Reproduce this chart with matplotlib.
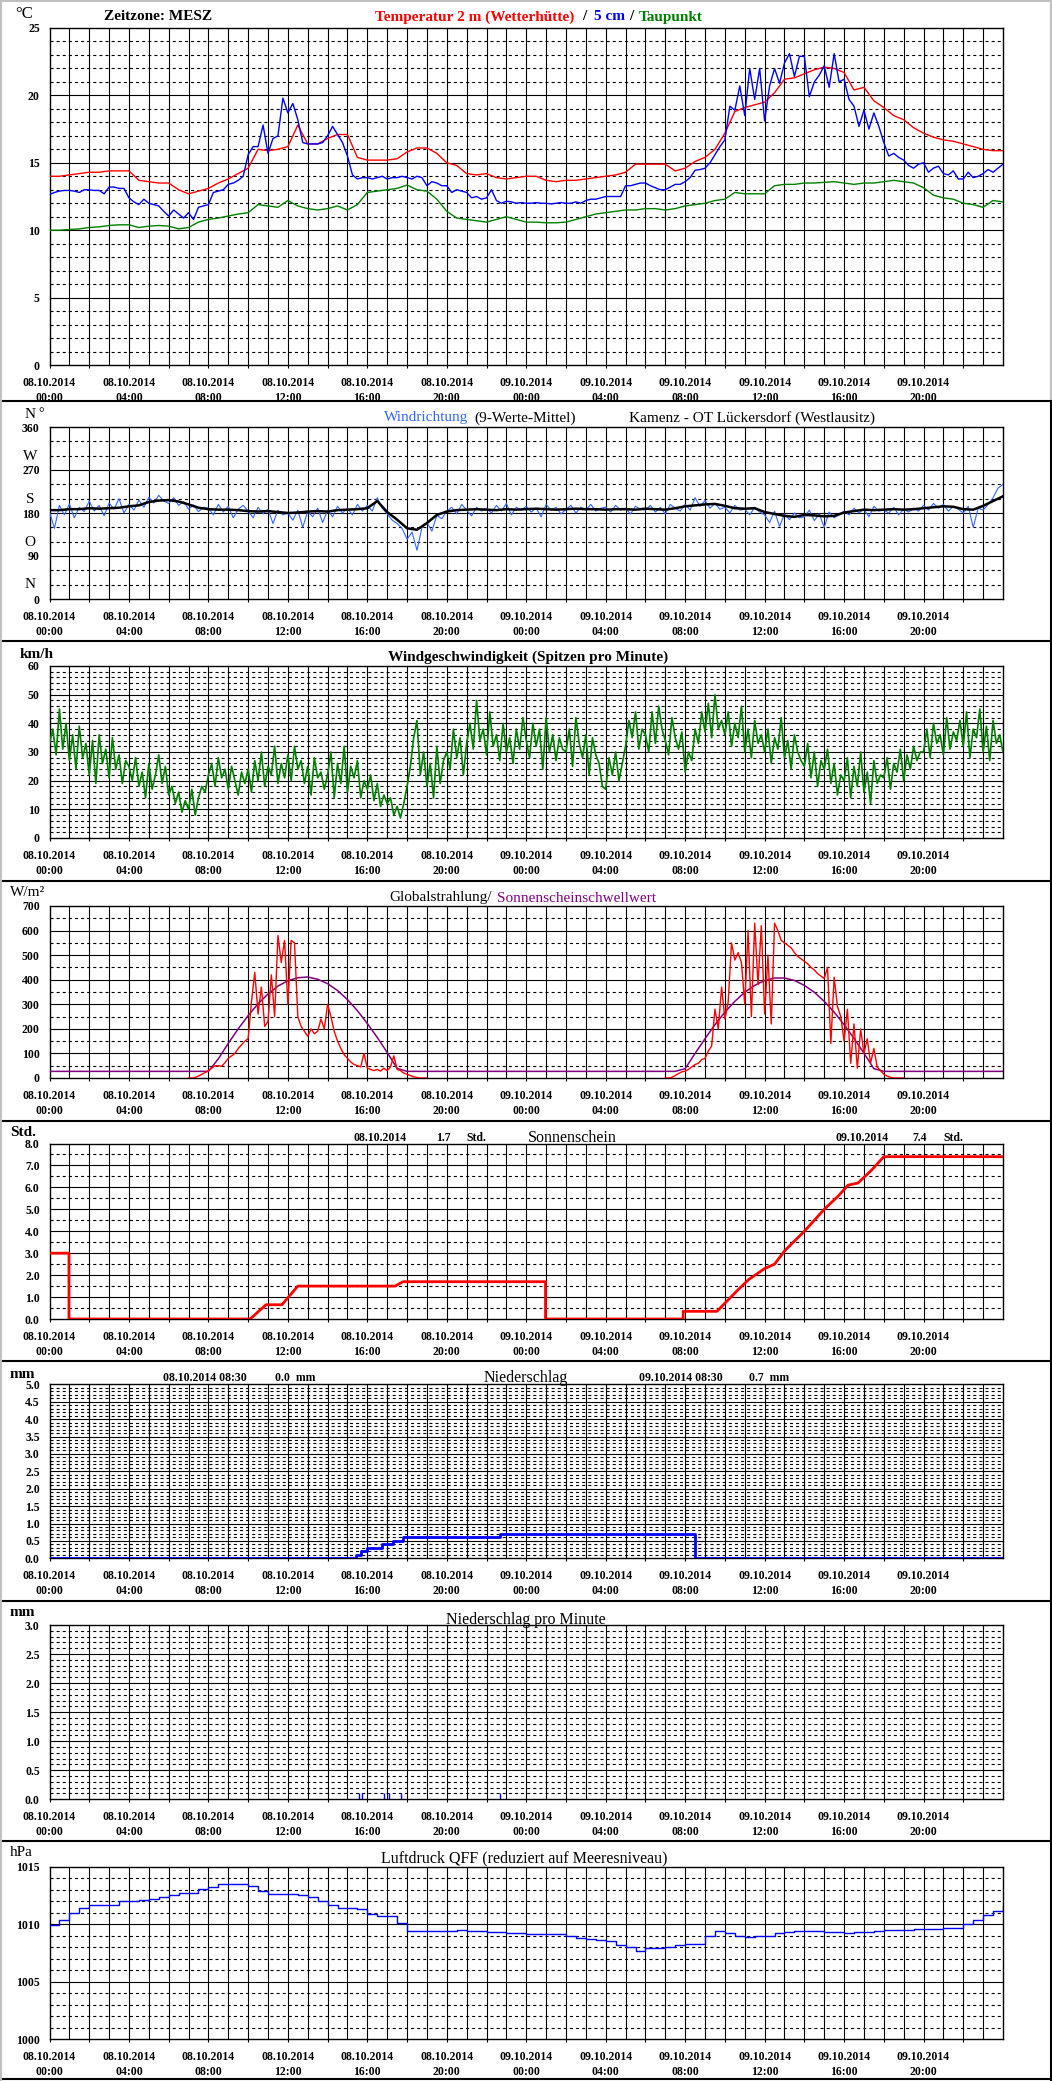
import numpy as np
import matplotlib
matplotlib.use("Agg")
import matplotlib.pyplot as plt
from matplotlib.lines import Line2D

plt.rcParams['font.family'] = ['Liberation Serif', 'DejaVu Serif']
plt.rcParams['lines.scale_dashes'] = False

# ---------------- data ----------------
tick_days = ['08.10.2014'] * 6 + ['09.10.2014'] * 6
tick_times = ['00:00', '04:00', '08:00', '12:00', '16:00', '20:00'] * 2

# temperature 2 m and dew point, every 30 min from 08.10. 00:00
temp_2m = [
    14.0, 14.0, 14.1, 14.2, 14.3, 14.3, 14.4, 14.4,
    14.4, 13.7, 13.6, 13.5, 13.5, 13.0, 12.7, 12.9,
    13.1, 13.5, 13.8, 14.2, 14.6, 16.0, 15.9, 16.0,
    16.2, 17.8, 16.4, 16.4, 16.8, 17.1, 17.1, 15.4,
    15.2, 15.2, 15.2, 15.3, 15.8, 16.1, 16.1, 15.7,
    15.0, 14.8, 14.2, 14.1, 14.2, 13.9, 13.8, 13.9,
    14.0, 14.0, 13.7, 13.6, 13.7, 13.7, 13.8, 13.9,
    14.0, 14.1, 14.3, 14.9, 14.9, 14.9, 14.9, 14.4,
    14.6, 15.1, 15.4, 16.0, 17.2, 18.8, 19.1, 19.3,
    19.5, 20.2, 21.2, 21.3, 21.6, 21.9, 22.1, 22.0,
    21.7, 20.4, 20.6, 19.6, 19.1, 18.5, 18.2, 17.6,
    17.2, 16.9, 16.7, 16.6, 16.4, 16.2, 16.0, 15.9,
    15.9]
dewpoint = [
    10.0, 10.0, 10.05, 10.1, 10.2, 10.25, 10.35, 10.4,
    10.4, 10.2, 10.3, 10.35, 10.3, 10.1, 10.2, 10.6,
    10.8, 10.9, 11.05, 11.2, 11.3, 11.9, 11.8, 11.7,
    12.2, 11.8, 11.6, 11.5, 11.6, 11.8, 11.5, 11.9,
    12.8, 12.9, 13.0, 13.1, 13.35, 13.0, 12.9, 12.3,
    11.4, 10.9, 10.8, 10.7, 10.6, 10.8, 11.0, 10.8,
    10.6, 10.6, 10.55, 10.55, 10.6, 10.8, 11.0, 11.2,
    11.3, 11.4, 11.5, 11.5, 11.6, 11.6, 11.5, 11.6,
    11.8, 11.9, 12.0, 12.2, 12.3, 12.8, 12.7, 12.7,
    12.7, 13.3, 13.4, 13.4, 13.5, 13.5, 13.55, 13.6,
    13.5, 13.4, 13.5, 13.5, 13.6, 13.7, 13.6, 13.5,
    13.15, 12.6, 12.4, 12.3, 12.0, 11.9, 11.7, 12.2,
    12.1]
# temperature 5 cm, every 15 min
temp_5cm = [
    12.65, 12.8, 12.9, 12.95, 12.95, 12.9, 12.8, 13.0,
    13.0, 12.95, 12.95, 12.7, 13.2, 13.2, 13.1, 13.1,
    12.4, 12.1, 11.9, 12.3, 12.0, 11.9, 11.8, 11.4,
    11.05, 11.5, 11.2, 10.9, 11.3, 10.8, 11.7, 11.8,
    11.9, 12.8, 12.9, 13.0, 13.4, 13.5, 13.7, 14.0,
    15.6, 16.2, 16.2, 17.8, 15.7, 16.8, 17.0, 19.8,
    18.7, 19.4, 18.2, 16.5, 16.4, 16.4, 16.4, 16.5,
    17.0, 17.7, 17.1, 16.5, 15.5, 14.1, 13.8, 13.9,
    13.9, 13.8, 13.9, 14.0, 13.8, 13.9, 13.9, 14.0,
    13.9, 13.8, 14.0, 13.9, 13.3, 13.6, 13.5, 13.3,
    13.3, 12.8, 13.0, 12.9, 12.8, 12.4, 12.5, 12.3,
    12.4, 13.0, 12.2, 12.0, 12.15, 12.1, 12.0, 12.05,
    12.0, 12.0, 12.05, 12.0, 12.0, 11.95, 12.0, 12.05,
    12.0, 12.0, 12.1, 12.0, 12.2, 12.3, 12.3, 12.4,
    12.5, 12.5, 12.5, 12.5, 13.3, 13.3, 13.4, 13.5,
    13.5, 13.3, 13.15, 13.0, 13.0, 13.2, 13.4, 13.4,
    13.6, 13.9, 14.45, 14.5, 14.6, 15.0, 15.6, 16.2,
    16.7, 19.2, 18.9, 20.7, 18.5, 22.0, 19.7, 22.0,
    18.1, 20.7, 22.0, 20.9, 22.4, 23.1, 21.4, 22.9,
    22.9, 19.9, 21.0, 21.5, 22.2, 20.6, 23.1, 21.0,
    21.2, 19.7, 19.2, 17.7, 18.9, 17.5, 18.7, 17.7,
    16.5, 15.5, 15.7, 15.4, 15.2, 14.8, 14.6, 14.9,
    15.0, 14.3, 14.6, 14.75, 14.2, 14.1, 14.4, 13.8,
    13.8, 14.3, 13.9, 14.0, 14.2, 14.5, 14.3, 14.6,
    14.9]

# wind direction (degrees), raw every 15 min and 9-value mean every 30 min
wind_dir = [
    182, 148, 196, 176, 199, 170, 192, 183,
    205, 184, 196, 174, 201, 188, 210, 180,
    198, 186, 207, 192, 213, 201, 217, 205,
    200, 212, 196, 204, 188, 197, 183, 192,
    190, 176, 198, 182, 194, 170, 188, 196,
    184, 170, 192, 178, 188, 158, 186, 176,
    180, 165, 186, 150, 184, 172, 190, 160,
    186, 172, 194, 180, 190, 176, 198, 184,
    196, 184, 212, 190, 178, 165, 158, 148,
    125, 140, 102, 150, 160, 142, 175, 168,
    184, 192, 178, 198, 186, 174, 192, 184,
    190, 180, 196, 184, 200, 176, 192, 186,
    194, 182, 190, 172, 198, 186, 192, 178,
    188, 196, 180, 192, 186, 198, 184, 190,
    192, 182, 196, 186, 190, 178, 194, 188,
    186, 196, 182, 192, 178, 198, 190, 184,
    198, 186, 212, 194, 206, 190, 200, 188,
    192, 180, 196, 186, 188, 176, 192, 182,
    176, 160, 184, 152, 178, 166, 180, 170,
    172, 186, 164, 178, 150, 182, 170, 176,
    184, 176, 190, 180, 188, 172, 194, 184,
    186, 180, 192, 176, 188, 182, 190, 184,
    196, 186, 200, 190, 198, 184, 194, 188,
    180, 194, 150, 190, 186, 198, 212, 232,
    240]
wind_dir_mean = [
    186, 186, 188, 188, 190, 189, 190, 191,
    194, 196, 203, 206, 207, 204, 198, 191,
    188, 187, 187, 186, 184, 183, 184, 182,
    180, 181, 183, 184, 183, 186, 187, 188,
    190, 205, 182, 166, 148, 145, 159, 176,
    183, 186, 187, 188, 187, 186, 188, 187,
    188, 189, 188, 187, 188, 189, 188, 188,
    187, 188, 188, 187, 189, 188, 187, 190,
    194, 196, 198, 199, 195, 190, 189, 190,
    182, 178, 174, 172, 176, 175, 173, 174,
    181, 184, 187, 186, 187, 188, 187, 188,
    190, 192, 194, 193, 188, 187, 195, 205,
    215]

# wind speed peaks (km/h), every 10 min
wind_speed = [
    33, 38, 29, 45, 31, 40, 27, 36, 24, 39, 28, 33,
    22, 34, 19, 36, 26, 31, 21, 35, 24, 29, 19, 27,
    25, 20, 28, 18, 23, 14, 26, 17, 22, 29, 19, 25,
    15, 18, 12, 16, 9, 13, 10, 17, 8, 14, 18, 16,
    22, 26, 18, 28, 21, 24, 17, 25, 20, 15, 23, 19,
    24, 16, 27, 20, 30, 18, 25, 22, 32, 19, 26, 21,
    29, 20, 32, 24, 27, 19, 25, 15, 28, 21, 23, 17,
    22, 30, 14, 26, 19, 32, 16, 25, 21, 27, 14, 20,
    17, 22, 13, 19, 11, 15, 12, 14, 8, 11, 7, 12,
    18, 25, 35, 41, 22, 30, 18, 26, 14, 32, 19, 27,
    30, 24, 38, 28, 35, 22, 33, 40, 31, 48, 34, 38,
    29, 44, 32, 36, 27, 40, 30, 35, 26, 38, 31, 42,
    34, 28, 40, 32, 38, 24, 42, 30, 36, 27, 35, 31,
    30, 38, 25, 42, 33, 28, 36, 22, 35, 29, 26, 18,
    17, 28, 22, 30, 20, 26, 32, 41, 35, 44, 31, 38,
    36, 30, 44, 33, 46, 38, 34, 29, 42, 35, 31, 37,
    23, 30, 27, 38, 33, 44, 37, 47, 35, 50, 38, 41,
    36, 44, 32, 40, 35, 46, 30, 38, 28, 41, 33, 36,
    30, 38, 26, 35, 31, 42, 28, 34, 24, 36, 30, 27,
    25, 33, 21, 30, 18, 27, 24, 31, 19, 26, 15, 22,
    20, 28, 14, 25, 18, 30, 16, 23, 12, 27, 19, 22,
    21, 28, 17, 26, 23, 31, 20, 29, 24, 32, 27, 30,
    30, 38, 28, 40, 33, 36, 29, 42, 31, 37, 34, 41,
    32, 44, 28, 38, 35, 45, 30, 39, 27, 41, 33, 36,
    30]

# global radiation (W/m2), every 10 min, day 1 from 07:00, day 2 from 07:00
rad_start = [7.0, 31.0]
rad_day1 = [
    0, 0, 2, 8, 15, 22,
    30, 40, 50, 50, 48, 62,
    80, 90, 100, 120, 135, 150,
    160, 310, 430, 260, 370, 210,
    230, 420, 250, 580, 470, 560,
    300, 560, 550, 250, 210, 190,
    170, 200, 180, 190, 240, 200,
    300, 250, 190, 150, 120, 95,
    80, 65, 55, 50, 45, 100,
    40, 35, 30, 35, 28, 40,
    30, 45, 90, 35, 30, 20,
    15, 10, 5, 2, 0, 0,
    0]
rad_day2 = [
    0, 0, 3, 10, 18, 25,
    28, 35, 45, 55, 60, 75,
    80, 110, 130, 280, 200, 370,
    240, 310, 550, 480, 510, 470,
    300, 600, 250, 630, 380, 620,
    260, 500, 220, 630, 600, 560,
    550, 540, 530, 510, 495, 485,
    475, 465, 450, 440, 425, 415,
    405, 450, 140, 410, 290, 250,
    150, 280, 60, 220, 40, 200,
    100, 160, 60, 120, 45, 30,
    15, 8, 3, 0, 0, 0,
    0]
# sunshine threshold (W/m2), every 30 min
sun_threshold = [
    27, 27, 27, 27, 27, 27, 27, 27,
    27, 27, 27, 27, 27, 27, 27, 27,
    27, 78, 141, 200, 254, 302, 342, 374,
    396, 408, 411, 402, 384, 356, 319, 274,
    222, 165, 104, 39, 27, 27, 27, 27,
    27, 27, 27, 27, 27, 27, 27, 27,
    27, 27, 27, 27, 27, 27, 27, 27,
    27, 27, 27, 27, 27, 27, 27, 27,
    38, 100, 160, 217, 268, 312, 349, 377,
    397, 407, 407, 397, 377, 349, 312, 268,
    217, 161, 101, 38, 27, 27, 27, 27,
    27, 27, 27, 27, 27, 27, 27, 27,
    27]

# cumulative sunshine (hours)
sun_hours_t = [0, 0.98, 0.98, 10.1, 10.9, 11.7, 12.5, 17.4, 17.8, 24.97, 24.97,
               31.9, 31.9, 33.6, 34.0, 34.66, 35.2, 36.0, 36.5, 37.0, 38.0,
               39.0, 39.7, 40.2, 40.7, 41.4, 42.0, 48.0]
sun_hours = [3.0, 3.0, 0.0, 0.0, 0.65, 0.65, 1.5, 1.5, 1.7, 1.7, 0.0,
             0.0, 0.35, 0.35, 0.72, 1.33, 1.8, 2.3, 2.5, 3.1, 4.0,
             5.0, 5.6, 6.1, 6.2, 6.8, 7.4, 7.4]

# precipitation: cumulative (mm) and per minute (mm)
rain_sum_t = [0, 15.42, 15.68, 16.0, 16.76, 17.27, 17.8, 22.7, 32.47, 48.0]
rain_sum = [0.0, 0.1, 0.2, 0.3, 0.4, 0.5, 0.6, 0.7, 0.0, 0.0]
rain_min_t = [15.58, 15.75, 16.83, 17.1, 17.68, 22.68]
rain_min = [0.1, 0.1, 0.1, 0.1, 0.1, 0.1]

# pressure QFF (hPa), every 30 min
pressure = [
    1009.9, 1010.4, 1011.0, 1011.4, 1011.7, 1011.7, 1011.7, 1012.0,
    1012.0, 1012.1, 1012.2, 1012.4, 1012.5, 1012.7, 1012.7, 1013.1,
    1013.2, 1013.5, 1013.5, 1013.5, 1013.3, 1012.9, 1012.6, 1012.6,
    1012.6, 1012.5, 1012.4, 1012.0, 1011.7, 1011.4, 1011.4, 1011.3,
    1010.9, 1010.7, 1010.7, 1010.1, 1009.4, 1009.4, 1009.4, 1009.4,
    1009.4, 1009.5, 1009.4, 1009.4, 1009.3, 1009.3, 1009.2, 1009.2,
    1009.1, 1009.1, 1009.1, 1009.1, 1009.0, 1008.8, 1008.7, 1008.6,
    1008.5, 1008.2, 1008.0, 1007.7, 1007.9, 1007.9, 1008.0, 1008.2,
    1008.3, 1008.3, 1009.0, 1009.4, 1009.2, 1009.0, 1008.9, 1009.0,
    1009.0, 1009.2, 1009.3, 1009.4, 1009.4, 1009.4, 1009.3, 1009.3,
    1009.2, 1009.3, 1009.3, 1009.4, 1009.5, 1009.5, 1009.5, 1009.6,
    1009.6, 1009.6, 1009.7, 1009.7, 1010.0, 1010.4, 1010.8, 1011.1,
    1011.6]

# ---------------- layout ----------------
W, H, DPI = 1052, 2081, 100
fig = plt.figure(figsize=(W / DPI, H / DPI), dpi=DPI)
fig.patch.set_facecolor('white')


def fx(px):
    return px / W


def fy(py):
    return 1 - py / H


def ftext(x, y, s, size=11, weight='normal', color='black', ha='left'):
    fig.text(fx(x), fy(y), s, fontsize=size, fontweight=weight, color=color,
             ha=ha, va='center')


def panel(top, bottom, ymin, ymax, major, minor, fmt):
    ax = fig.add_axes([fx(49.5), fy(bottom), fx(1003) - fx(49.5), (bottom - top) / H])
    ax.set_xlim(0, 48)
    ax.set_ylim(ymin, ymax)
    for h in range(1, 48):
        ax.axvline(h, color='black', lw=0.8, zorder=1)
    n = int(round((ymax - ymin) / minor))
    for i in range(1, n):
        v = ymin + i * minor
        if abs(v / major - round(v / major)) < 1e-6:
            ax.axhline(v, color='black', lw=0.8, zorder=1)
        else:
            ax.axhline(v, color='black', lw=0.8, ls=(0, (2.2, 2.2)), zorder=1)
    majors = [ymin + i * major for i in range(int(round((ymax - ymin) / major)) + 1)]
    ax.set_yticks(majors)
    ax.set_yticklabels([fmt.format(v) for v in majors], fontsize=8.5, fontweight='bold')
    ax.tick_params(axis='y', length=0, pad=7)
    ax.set_xticks(range(0, 48, 4))
    ax.set_xticklabels([d + '\n' + t for d, t in zip(tick_days, tick_times)],
                       fontsize=8.5, fontweight='bold', linespacing=1.3)
    ax.set_xticks(range(2, 48, 4), minor=True)
    ax.tick_params(axis='x', which='both', direction='out', length=2.5, width=0.8, pad=6)
    for s in ax.spines.values():
        s.set_linewidth(1.0)
    return ax


t30 = np.arange(len(temp_2m)) * 0.5
t15 = np.arange(len(temp_5cm)) * 0.25
t10 = np.arange(len(wind_speed)) / 6.0

# --- panel 1: temperatures
ax1 = panel(28, 365, 0, 25, 5, 1, '{:.0f}')
ax1.plot(t30, temp_2m, color='#ff0000', lw=1.0, zorder=3)
ax1.plot(t30, dewpoint, color='#008000', lw=1.0, zorder=3)
ax1.plot(t15, temp_5cm, color='#0000ff', lw=1.0, zorder=4)
ftext(15, 14, '°C', size=12)
ftext(104, 17, 'Zeitzone: MESZ', size=11, weight='bold')
ftext(375, 17, 'Temperatur 2 m (Wetterhütte)', size=11, weight='bold', color='#ff0000')
ftext(582, 17, '/', size=11, weight='bold')
ftext(594, 17, '5 cm', size=11, weight='bold', color='#0000ff')
ftext(629, 17, '/', size=11, weight='bold')
ftext(639, 17, 'Taupunkt', size=11, weight='bold', color='#008000')

# --- panel 2: wind direction
ax2 = panel(427, 599, 0, 360, 90, 30, '{:.0f}')
ax2.plot(t15, wind_dir, color='#3366ff', lw=0.8, zorder=3)
ax2.plot(t30, wind_dir_mean, color='black', lw=1.8, zorder=4)
ftext(384, 418, 'Windrichtung', color='#3366ff')
ftext(474, 418, '(9-Werte-Mittel)')
ftext(629, 418, 'Kamenz - OT Lückersdorf (Westlausitz)')
for lab, y in [('N', 415), ('W', 457), ('S', 500), ('O', 542), ('N', 585)]:
    ftext(30, y, lab, ha='center')
ftext(38, 414, '°', size=10)

# --- panel 3: wind speed
ax3 = panel(666, 838, 0, 60, 10, 2, '{:.0f}')
ax3.plot(t10, wind_speed, color='#008000', lw=1.2, zorder=3)
ftext(20, 655, 'km/h', weight='bold')
ftext(388, 657, 'Windgeschwindigkeit (Spitzen pro Minute)', weight='bold')

# --- panel 4: global radiation
ax4 = panel(906, 1078, 0, 700, 100, 50, '{:.0f}')
ax4.plot(t30, sun_threshold, color='#800080', lw=1.1, zorder=3)
for start, vals in zip(rad_start, [rad_day1, rad_day2]):
    ax4.plot(start + np.arange(len(vals)) / 6.0, vals, color='#ff0000', lw=1.0, zorder=4)
ftext(10, 893, 'W/m²')
ftext(389, 898, 'Globalstrahlung/')
ftext(497, 898, 'Sonnenscheinschwellwert', color='#800080')

# --- panel 5: sunshine duration
ax5 = panel(1143.5, 1319, 0, 8, 1, 0.5, '{:.1f}')
ax5.plot(sun_hours_t, sun_hours, color='#ff0000', lw=2.0, zorder=3)
ftext(10, 1132, 'Std.', weight='bold')
ftext(354, 1138, '08.10.2014', size=8.5, weight='bold')
ftext(436, 1138, '1.7', size=8.5, weight='bold')
ftext(466, 1138, 'Std.', size=8.5, weight='bold')
ftext(528, 1138, 'Sonnenschein', size=11.5)
ftext(835, 1138, '09.10.2014', size=8.5, weight='bold')
ftext(912, 1138, '7.4', size=8.5, weight='bold')
ftext(943, 1138, 'Std.', size=8.5, weight='bold')

# --- panel 6: precipitation sum
ax6 = panel(1384.3, 1558.3, 0, 5, 0.5, 0.1, '{:.1f}')
ax6.plot(rain_sum_t, rain_sum, color='#0000ff', lw=2.0, drawstyle='steps-post', zorder=3)
ftext(10, 1374, 'mm', weight='bold')
ftext(163, 1378, '08.10.2014 08:30', size=8.5, weight='bold')
ftext(275, 1378, '0.0  mm', size=8.5, weight='bold')
ftext(484, 1378, 'Niederschlag', size=11.5)
ftext(639, 1378, '09.10.2014 08:30', size=8.5, weight='bold')
ftext(749, 1378, '0.7  mm', size=8.5, weight='bold')

# --- panel 7: precipitation per minute
ax7 = panel(1625, 1799.3, 0, 3, 0.5, 0.1, '{:.1f}')
ax7.vlines(rain_min_t, 0, rain_min, color='#0000ff', lw=1.0, zorder=3)
ftext(10, 1613, 'mm', weight='bold')
ftext(446, 1620, 'Niederschlag pro Minute', size=11.5)

# --- panel 8: pressure
ax8 = panel(1866.7, 2039, 1000, 1015, 5, 1, '{:.0f}')
ax8.plot(t30, pressure, color='#0000ff', lw=1.0, drawstyle='steps-post', zorder=3)
ftext(10, 1852, 'hPa')
ftext(381, 1858, 'Luftdruck QFF (reduziert auf Meeresniveau)', size=11.5)

# separators and frame
for y in [401, 641, 881, 1121, 1361, 1601, 1841, 2079]:
    fig.add_artist(Line2D([0, fx(1051)], [fy(y), fy(y)], color='black', lw=1.5))
fig.add_artist(Line2D([fx(0.5), fx(0.5)], [0, 1], color='#c0c0c0', lw=1.5))
fig.add_artist(Line2D([0, 1], [fy(0.5), fy(0.5)], color='#c0c0c0', lw=1.5))
fig.add_artist(Line2D([fx(1050.5), fx(1050.5)], [fy(0), fy(401)], color='#c0c0c0', lw=1.5))
fig.add_artist(Line2D([fx(1050.5), fx(1050.5)], [fy(401), fy(2080)], color='black', lw=1.5))

fig.savefig('out.png', dpi=DPI, facecolor='white')
